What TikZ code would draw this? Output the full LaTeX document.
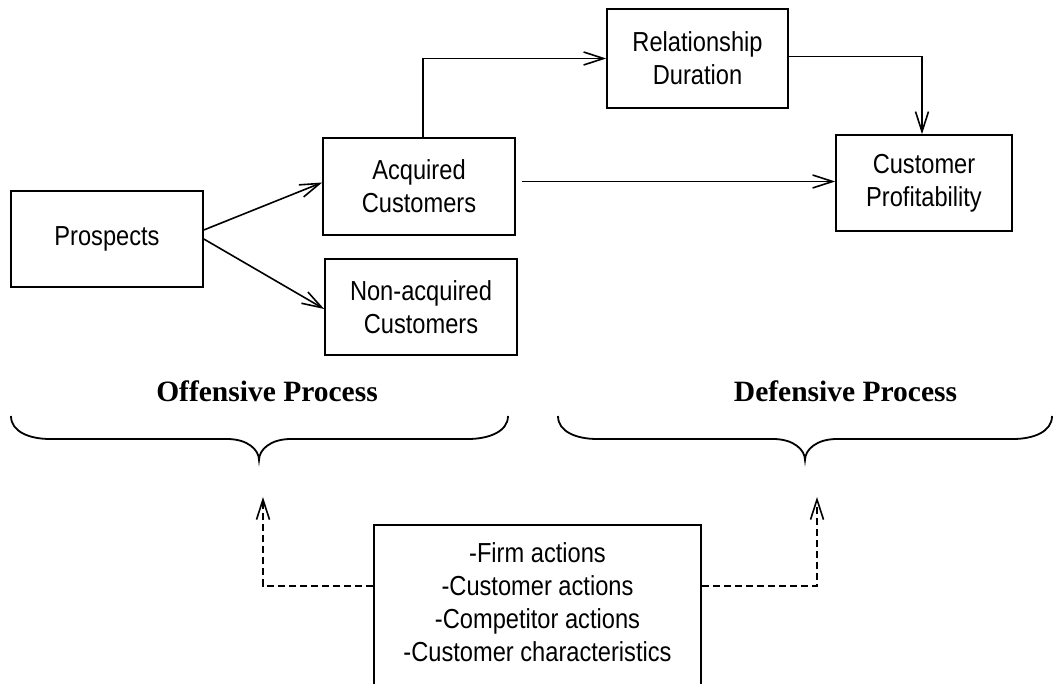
\documentclass[tikz,border=0pt]{standalone}
\usepackage{fontspec}
\setmainfont{Liberation Sans}[FakeStretch=0.86]
\newfontfamily\headfont{Liberation Serif}
\usetikzlibrary{arrows.meta,calc}
\begin{document}
\begin{tikzpicture}[x=1pt,y=-1pt,
  box/.style={draw, line width=1.6pt, align=center, inner sep=0pt,
    font=\fontsize{27.5}{33}\selectfont},
  txt/.style={align=center, inner sep=0pt, font=\fontsize{27.5}{33}\selectfont},
  arr/.style={line width=1.6pt, -{Straight Barb[length=20pt,width=13pt]}},
  darr/.style={arr, dash pattern=on 7pt off 4pt},
  brace/.style={line width=1.8pt},
  head/.style={font=\headfont\bfseries\fontsize{29.5}{34}\selectfont, anchor=base, inner sep=0pt}]
\useasboundingbox (0,0) rectangle (1053,684);
\clip (0,0) rectangle (1053,684);

% boxes
\node[box, minimum width=192pt, minimum height=96pt] (pros) at (107,239) {Prospects};
\node[box, minimum width=192pt, minimum height=97pt] (acq) at (419,186.5) {Acquired\\Customers};
\node[box, minimum width=192pt, minimum height=96pt] (non) at (421,307) {Non-acquired\\Customers};
\node[box, minimum width=181pt, minimum height=99pt] (rel) at (697.5,58.5) {Relationship\\Duration};
\node[box, minimum width=176pt, minimum height=96pt] (cp) at (924,183) {Customer\\Profitability};
\node[box, minimum width=327pt, minimum height=220pt, anchor=north] (fac) at (537.5,524) {};
\node[txt, anchor=base] (factxt) at (537.5,661) {-Firm actions\\-Customer actions\\-Competitor actions\\-Customer characteristics};

% headings
\node[head] (off) at (267,402) {Offensive Process};
\node[head] (def) at (845.5,402) {Defensive Process};

% braces
\draw[brace] (11,416) .. controls (11,432) and (30,439) .. (50,439) -- (227,439)
  .. controls (248,439) and (259,450) .. (259,460)
  .. controls (259,450) and (270,439) .. (291,439) -- (468,439)
  .. controls (488,439) and (508,432) .. (508,416);
\draw[brace] (558,416) .. controls (558,432) and (577,439) .. (597,439) -- (773,439)
  .. controls (794,439) and (805,450) .. (805,460)
  .. controls (805,450) and (816,439) .. (837,439) -- (1013,439)
  .. controls (1033,439) and (1052,432) .. (1052,416);

% connectors
\draw[arr] ([yshift=9pt]pros.east) -- ([yshift=4pt]acq.west);
\draw[arr] (pros.east) -- ([yshift=-2pt]non.west);
\draw[arr] ([xshift=4pt]acq.north) |- (rel.west);
\draw[arr] ([yshift=2pt]rel.east) -| ([xshift=-2pt]cp.north);
\coordinate (ac) at ($(acq.east)+(6,-5)$);
\draw[arr] (ac) -- (cp.west |- ac);

% dashed influences
\coordinate (tipL) at (263,497);
\coordinate (tipR) at (817,497);
\draw[darr] ($(fac.north west)+(0,62)$) -| (tipL);
\draw[darr] ($(fac.north east)+(0,62)$) -| (tipR);
\end{tikzpicture}
\end{document}
